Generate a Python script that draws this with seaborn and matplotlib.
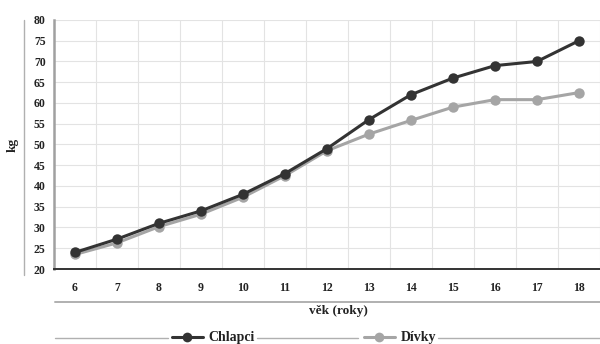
import pandas as pd
import matplotlib
matplotlib.use("Agg")
import matplotlib.pyplot as plt
import seaborn as sns
from matplotlib.lines import Line2D

# data
vek = ["6", "7", "8", "9", "10", "11", "12", "13", "14", "15", "16", "17", "18"]
chlapci = [24, 27.2, 31, 34, 38, 43, 49, 56, 62, 66, 69, 70, 75]
divky = [23.5, 26.3, 30.2, 33.2, 37.3, 42.5, 48.5, 52.5, 55.8, 59, 60.8, 60.8, 62.5]

sns.set_theme(style="white")
plt.rcParams["font.family"] = ["Liberation Serif", "DejaVu Serif"]
plt.rcParams["font.weight"] = "bold"

df = pd.DataFrame({"x": list(range(len(vek))) * 2,
                   "kg": chlapci + divky,
                   "skupina": ["Chlapci"] * len(vek) + ["Dívky"] * len(vek)})

fig = plt.figure(figsize=(6, 3.44), dpi=100)
ax = fig.add_axes([0.09, 0.218, 0.91, 0.724])

barvy = {"Chlapci": "#333333", "Dívky": "#a5a5a5"}
# girls first so boys line sits on top
for s in ["Dívky", "Chlapci"]:
    sns.lineplot(data=df[df.skupina == s], x="x", y="kg", color=barvy[s],
                 marker="o", markersize=7.5, markeredgewidth=0, linewidth=2.2,
                 ax=ax, legend=False)

ax.set_xlim(-0.5, 12.26)
ax.set_ylim(20, 80)
ax.set_yticks(range(20, 81, 5))
ax.set_xticks(range(len(vek)))
ax.set_xticklabels(vek)
ax.set_xticks([i + 0.5 for i in range(-1, 13)], minor=True)
ax.grid(False)
ax.grid(True, which="minor", axis="x", color="#e3e3e3", linewidth=0.8)
ax.grid(True, which="major", axis="y", color="#e3e3e3", linewidth=0.8)
ax.tick_params(axis="both", which="both", length=0, labelsize=8.5, colors="#222222")
ax.tick_params(axis="x", pad=9)
ax.tick_params(axis="y", pad=6)
for t in ax.get_xticklabels() + ax.get_yticklabels():
    t.set_fontweight("bold")

for sp in ["top", "right"]:
    ax.spines[sp].set_visible(False)
ax.spines["left"].set_color("#a0a0a0")
ax.spines["left"].set_linewidth(1.8)
ax.spines["bottom"].set_color("#333333")
ax.spines["bottom"].set_linewidth(1.4)

ax.set_xlabel("")
ax.set_ylabel("")
fig.text(338 / 600, 1 - 311 / 344, "věk (roky)", ha="center", va="center",
         fontsize=9.5, fontweight="bold", color="#222222")
fig.text(13 / 600, 1 - 145 / 344, "kg", ha="center", va="center", rotation=90,
         fontsize=9.5, fontweight="bold", color="#222222")

# decorative gray rules
def hline(x0, x1, y, lw=1.0, c="#b0b0b0"):
    fig.add_artist(Line2D([x0 / 600, x1 / 600], [1 - y / 344, 1 - y / 344],
                          color=c, linewidth=lw, transform=fig.transFigure))

fig.add_artist(Line2D([24 / 600, 24 / 600], [1 - 20 / 344, 1 - 275 / 344],
                      color="#b0b0b0", linewidth=1.0, transform=fig.transFigure))
hline(55, 600, 302, lw=1.4)
hline(55, 168, 338)
hline(257, 358, 338)
hline(438, 600, 338)

# two legend entries, placed separately like the original
for s, x0 in [("Chlapci", 172), ("Dívky", 364)]:
    h = Line2D([], [], color=barvy[s], marker="o", markersize=7,
               linewidth=2.2, markeredgewidth=0)
    leg = fig.legend([h], [s], loc="center left",
                     bbox_to_anchor=(x0 / 600, 1 - 338 / 344), frameon=False,
                     borderpad=0, borderaxespad=0, handlelength=2.2,
                     handletextpad=0.45, prop={"weight": "bold", "size": 10})
    for t in leg.get_texts():
        t.set_color("#222222")

plt.savefig("out.png", dpi=100)
